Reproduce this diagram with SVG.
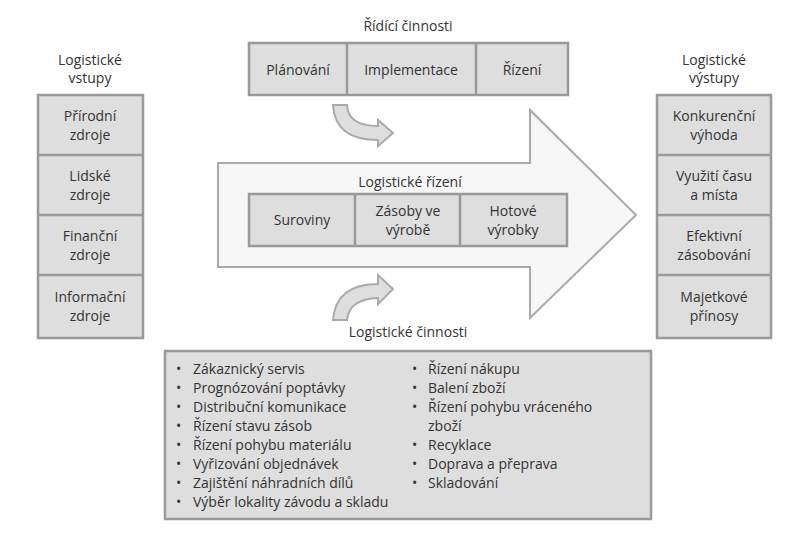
<svg xmlns="http://www.w3.org/2000/svg" width="808" height="551" viewBox="0 0 808 551">
<style>
text{font-family:"Open Sans","Liberation Sans",sans-serif;font-size:14px;fill:#333}
.c{text-anchor:middle}
.b{fill:#dedede;stroke:#999;stroke-width:2.5}
.l{stroke:#999;stroke-width:2.5}
.ca{fill:#dedede;stroke:#aaa;stroke-width:2}
</style>
<rect width="808" height="551" fill="#fff"/>
<g id="arrow-main"><path d="M218,163 L530,163 L530,110 L636,215 L530,318 L530,267 L218,267 Z" fill="#f7f7f7" stroke="#aaa" stroke-width="2"/>
<text class="c" x="410" y="187">Logistické řízení</text></g>
<g id="ridici"><text class="c" x="408" y="31">Řídící činnosti</text>
<rect class="b" x="249" y="43" width="319" height="52"/>
<line class="l" x1="347" y1="43" x2="347" y2="95"/><line class="l" x1="476" y1="43" x2="476" y2="95"/>
<text class="c" x="298" y="75">Plánování</text><text class="c" x="411" y="75">Implementace</text><text class="c" x="522" y="75">Řízení</text></g>
<g id="rizeni"><rect class="b" x="249" y="194" width="318" height="52"/>
<line class="l" x1="355" y1="194" x2="355" y2="246"/><line class="l" x1="460" y1="194" x2="460" y2="246"/>
<text class="c" x="302" y="225">Suroviny</text>
<text class="c" x="408" y="216">Zásoby ve</text><text class="c" x="408" y="235">výrobě</text>
<text class="c" x="513" y="216">Hotové</text><text class="c" x="513" y="235">výrobky</text></g>
<g id="connectors">
<path class="ca" d="M333,105 L347,105 Q348,126 378,126 L378,120 L393,133 L378,146 L378,140 Q335,140 333,105 Z"/>
<path class="ca" d="M333,320 L347,320 Q349,299 378,298 L378,304 L393,289 L378,275 L378,284 Q336,284 333,320 Z"/>
</g>
<g id="vstupy"><text class="c" x="90" y="65">Logistické</text><text class="c" x="90" y="83">vstupy</text>
<rect class="b" x="38" y="95" width="105" height="243"/>
<line class="l" x1="38" y1="155" x2="143" y2="155"/><line class="l" x1="38" y1="215" x2="143" y2="215"/><line class="l" x1="38" y1="275" x2="143" y2="275"/>
<text class="c" x="90" y="121">Přírodní</text><text class="c" x="90" y="140">zdroje</text>
<text class="c" x="90" y="181">Lidské</text><text class="c" x="90" y="200">zdroje</text>
<text class="c" x="90" y="241">Finanční</text><text class="c" x="90" y="260">zdroje</text>
<text class="c" x="90" y="302">Informační</text><text class="c" x="90" y="321">zdroje</text></g>
<g id="vystupy"><text class="c" x="714" y="65">Logistické</text><text class="c" x="714" y="83">výstupy</text>
<rect class="b" x="657" y="95" width="114" height="243"/>
<line class="l" x1="657" y1="155" x2="771" y2="155"/><line class="l" x1="657" y1="215" x2="771" y2="215"/><line class="l" x1="657" y1="275" x2="771" y2="275"/>
<text class="c" x="714" y="121">Konkurenční</text><text class="c" x="714" y="140">výhoda</text>
<text class="c" x="714" y="181">Využití času</text><text class="c" x="714" y="200">a místa</text>
<text class="c" x="714" y="241">Efektivní</text><text class="c" x="714" y="260">zásobování</text>
<text class="c" x="714" y="302">Majetkové</text><text class="c" x="714" y="321">přínosy</text></g>
<g id="cinnosti"><text class="c" x="408" y="337">Logistické činnosti</text>
<rect class="b" x="165" y="351" width="486" height="168"/>
<g>
<text x="176" y="374">•</text><text x="193" y="374">Zákaznický servis</text>
<text x="176" y="393">•</text><text x="193" y="393">Prognózování poptávky</text>
<text x="176" y="412">•</text><text x="193" y="412">Distribuční komunikace</text>
<text x="176" y="431">•</text><text x="193" y="431">Řízení stavu zásob</text>
<text x="176" y="450">•</text><text x="193" y="450">Řízení pohybu materiálu</text>
<text x="176" y="469">•</text><text x="193" y="469">Vyřizování objednávek</text>
<text x="176" y="488">•</text><text x="193" y="488">Zajištění náhradních dílů</text>
<text x="176" y="507">•</text><text x="193" y="507">Výběr lokality závodu a skladu</text>
<text x="412" y="374">•</text><text x="428" y="374">Řízení nákupu</text>
<text x="412" y="393">•</text><text x="428" y="393">Balení zboží</text>
<text x="412" y="412">•</text><text x="428" y="412">Řízení pohybu vráceného</text>
<text x="428" y="431">zboží</text>
<text x="412" y="450">•</text><text x="428" y="450">Recyklace</text>
<text x="412" y="469">•</text><text x="428" y="469">Doprava a přeprava</text>
<text x="412" y="488">•</text><text x="428" y="488">Skladování</text>
</g></g>
</svg>
